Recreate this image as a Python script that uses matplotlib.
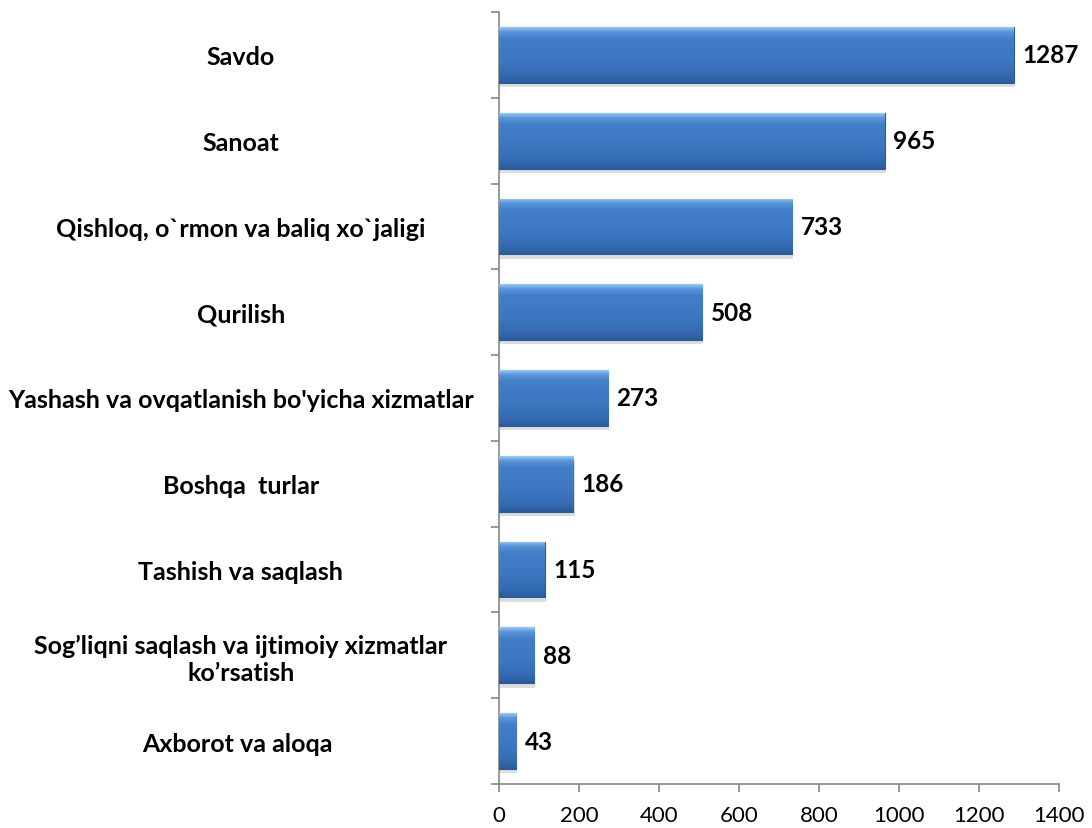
import numpy as np
import matplotlib.pyplot as plt
from matplotlib.colors import LinearSegmentedColormap

categories = [
    "Savdo",
    "Sanoat",
    "Qishloq, o`rmon va baliq xo`jaligi",
    "Qurilish",
    "Yashash va ovqatlanish bo'yicha xizmatlar",
    "Boshqa  turlar",
    "Tashish va saqlash",
    "Sog\u2019liqni saqlash va ijtimoiy xizmatlar\nko\u2019rsatish",
    "Axborot va aloqa ",
]
values = [1287, 965, 733, 508, 273, 186, 115, 88, 43]
x_ticks = [0, 200, 400, 600, 800, 1000, 1200, 1400]

plt.rcParams['font.family'] = ['Lato', 'DejaVu Sans']

fig = plt.figure(figsize=(10.92, 8.29), dpi=100)
ax = fig.add_axes([499 / 1092, 1 - 785 / 829, 560 / 1092, (785 - 13) / 829])

ypos = np.arange(len(values))[::-1]
bar_h = 0.65
bars = ax.barh(ypos, values, height=bar_h, color='#3d78c3', edgecolor='#2c5b97',
               linewidth=0.8, zorder=3)

# vertical gradient (top -> bottom) to fake the bevel look
grad_cmap = LinearSegmentedColormap.from_list(
    'bevel', [(0.0, '#9ccaf3'), (0.08, '#5b95da'), (0.2, '#437fc9'),
              (0.6, '#3c77c1'), (0.88, '#3469b0'), (1.0, '#2b5a97')])
grad = np.linspace(0, 1, 200).reshape(-1, 1)
for b in bars:
    x0, y0 = b.get_x(), b.get_y()
    w, h = b.get_width(), b.get_height()
    # soft shadow
    ax.barh(y0 + h / 2 - 0.05, w, left=x0 + 3, height=h, color='#bdbdbd',
            alpha=0.5, zorder=2, linewidth=0)
    im = ax.imshow(grad, cmap=grad_cmap, aspect='auto', zorder=4, origin='upper',
                   extent=[x0, x0 + w, y0, y0 + h], interpolation='bicubic')
    im.set_clip_path(b)

for y, v in zip(ypos, values):
    ax.annotate(str(v), (v, y), xytext=(6, 0), textcoords='offset points',
                ha='left', va='center', fontsize=17.5, fontweight='bold', color='black')

ax.set_xlim(0, 1400)
ax.set_ylim(-0.5, len(values) - 0.5)
ax.set_xticks(x_ticks)
ax.set_xticklabels([str(t) for t in x_ticks], fontsize=16)
ax.set_yticks(ypos)
ax.set_yticklabels(categories, fontsize=18, fontweight='bold', ha='center')
ax.tick_params(axis='y', length=0, pad=186)
ax.set_yticks(np.arange(-0.5, len(values), 1), minor=True)
ax.tick_params(axis='y', which='minor', length=6, color='#868686', width=1.2)
ax.tick_params(axis='x', length=6, color='#868686', width=1.2, pad=9)

for s in ['top', 'right']:
    ax.spines[s].set_visible(False)
ax.spines['left'].set_color('#868686')
ax.spines['bottom'].set_color('#868686')
ax.spines['left'].set_linewidth(1.2)
ax.spines['bottom'].set_linewidth(1.2)

fig.savefig('out.png', dpi=100)
